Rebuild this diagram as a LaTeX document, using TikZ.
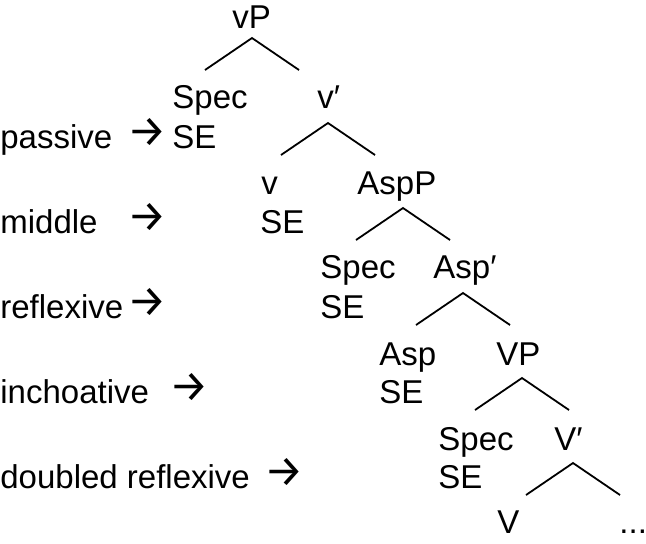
\documentclass[tikz,border=0pt]{standalone}
\usepackage{fontspec}
\setmainfont{Liberation Sans}
\newfontfamily\arrowfont{Fira Sans}
\begin{document}
\begin{tikzpicture}[x=0.5pt,y=-0.5pt,
    lbl/.style={anchor=base west, inner sep=0pt, font=\fontsize{16.5}{19}\selectfont},
    arr/.style={anchor=base west, inner sep=0pt, yshift=1pt, font=\arrowfont\fontsize{22}{22}\selectfont},
    branch/.style={line width=0.9pt}]

    % Fix the size of the picture to the proportions of the image
    \useasboundingbox (0,0) rectangle (646,543);

    % Tree labels, placed level by level
    \node[lbl] (vP) at (232,28) {vP};
    \node[lbl] (specA) at (172,108) {Spec};
    \node[lbl] (seA) at (172,148) {SE};
    \node[lbl] (vbar) at (317,108) {v′};
    \node[lbl] (vhead) at (261,194) {v};
    \node[lbl] (seB) at (260,233) {SE};
    \node[lbl] (aspP) at (357,194) {AspP};
    \node[lbl] (specB) at (320,278) {Spec};
    \node[lbl] (seC) at (320,318) {SE};
    \node[lbl] (aspbar) at (433,278) {Asp′};
    \node[lbl] (asphead) at (379,365) {Asp};
    \node[lbl] (seD) at (379,403) {SE};
    \node[lbl] (VP) at (496,365) {VP};
    \node[lbl] (specC) at (438,450) {Spec};
    \node[lbl] (seE) at (438,488) {SE};
    \node[lbl] (Vbar) at (554,450) {V′};
    \node[lbl] (Vhead) at (497,533) {V};
    \node[lbl] (dots) at (619,533) {...};

    % Branches: apex under each phrase, with its two legs
    \foreach \name/\x/\y in {vP/252/38, vbar/328/123, aspP/403/208,
                             aspbar/463/293, VP/522/378, Vbar/573/463} {
        \coordinate (\name-t) at (\x,\y);
        \coordinate (\name-l) at (\x-47,\y+32);
        \coordinate (\name-r) at (\x+47,\y+32);
        \draw[branch] (\name-l) -- (\name-t) -- (\name-r);
    }

    % Readings on the left, each pointing at its SE
    \node[lbl] (passive) at (0,148) {passive};
    \node[arr] (passivearr) at (127,148) {→};
    \node[lbl] (middle) at (0,233) {middle};
    \node[arr] (middlearr) at (127,233) {→};
    \node[lbl] (reflexive) at (0,318) {reflexive};
    \node[arr] (reflexivearr) at (127,318) {→};
    \node[lbl] (inchoative) at (0,403) {inchoative};
    \node[arr] (inchoativearr) at (169,403) {→};
    \node[lbl] (doubled) at (0,488) {doubled reflexive};
    \node[arr] (doubledarr) at (264,488) {→};

\end{tikzpicture}
\end{document}
